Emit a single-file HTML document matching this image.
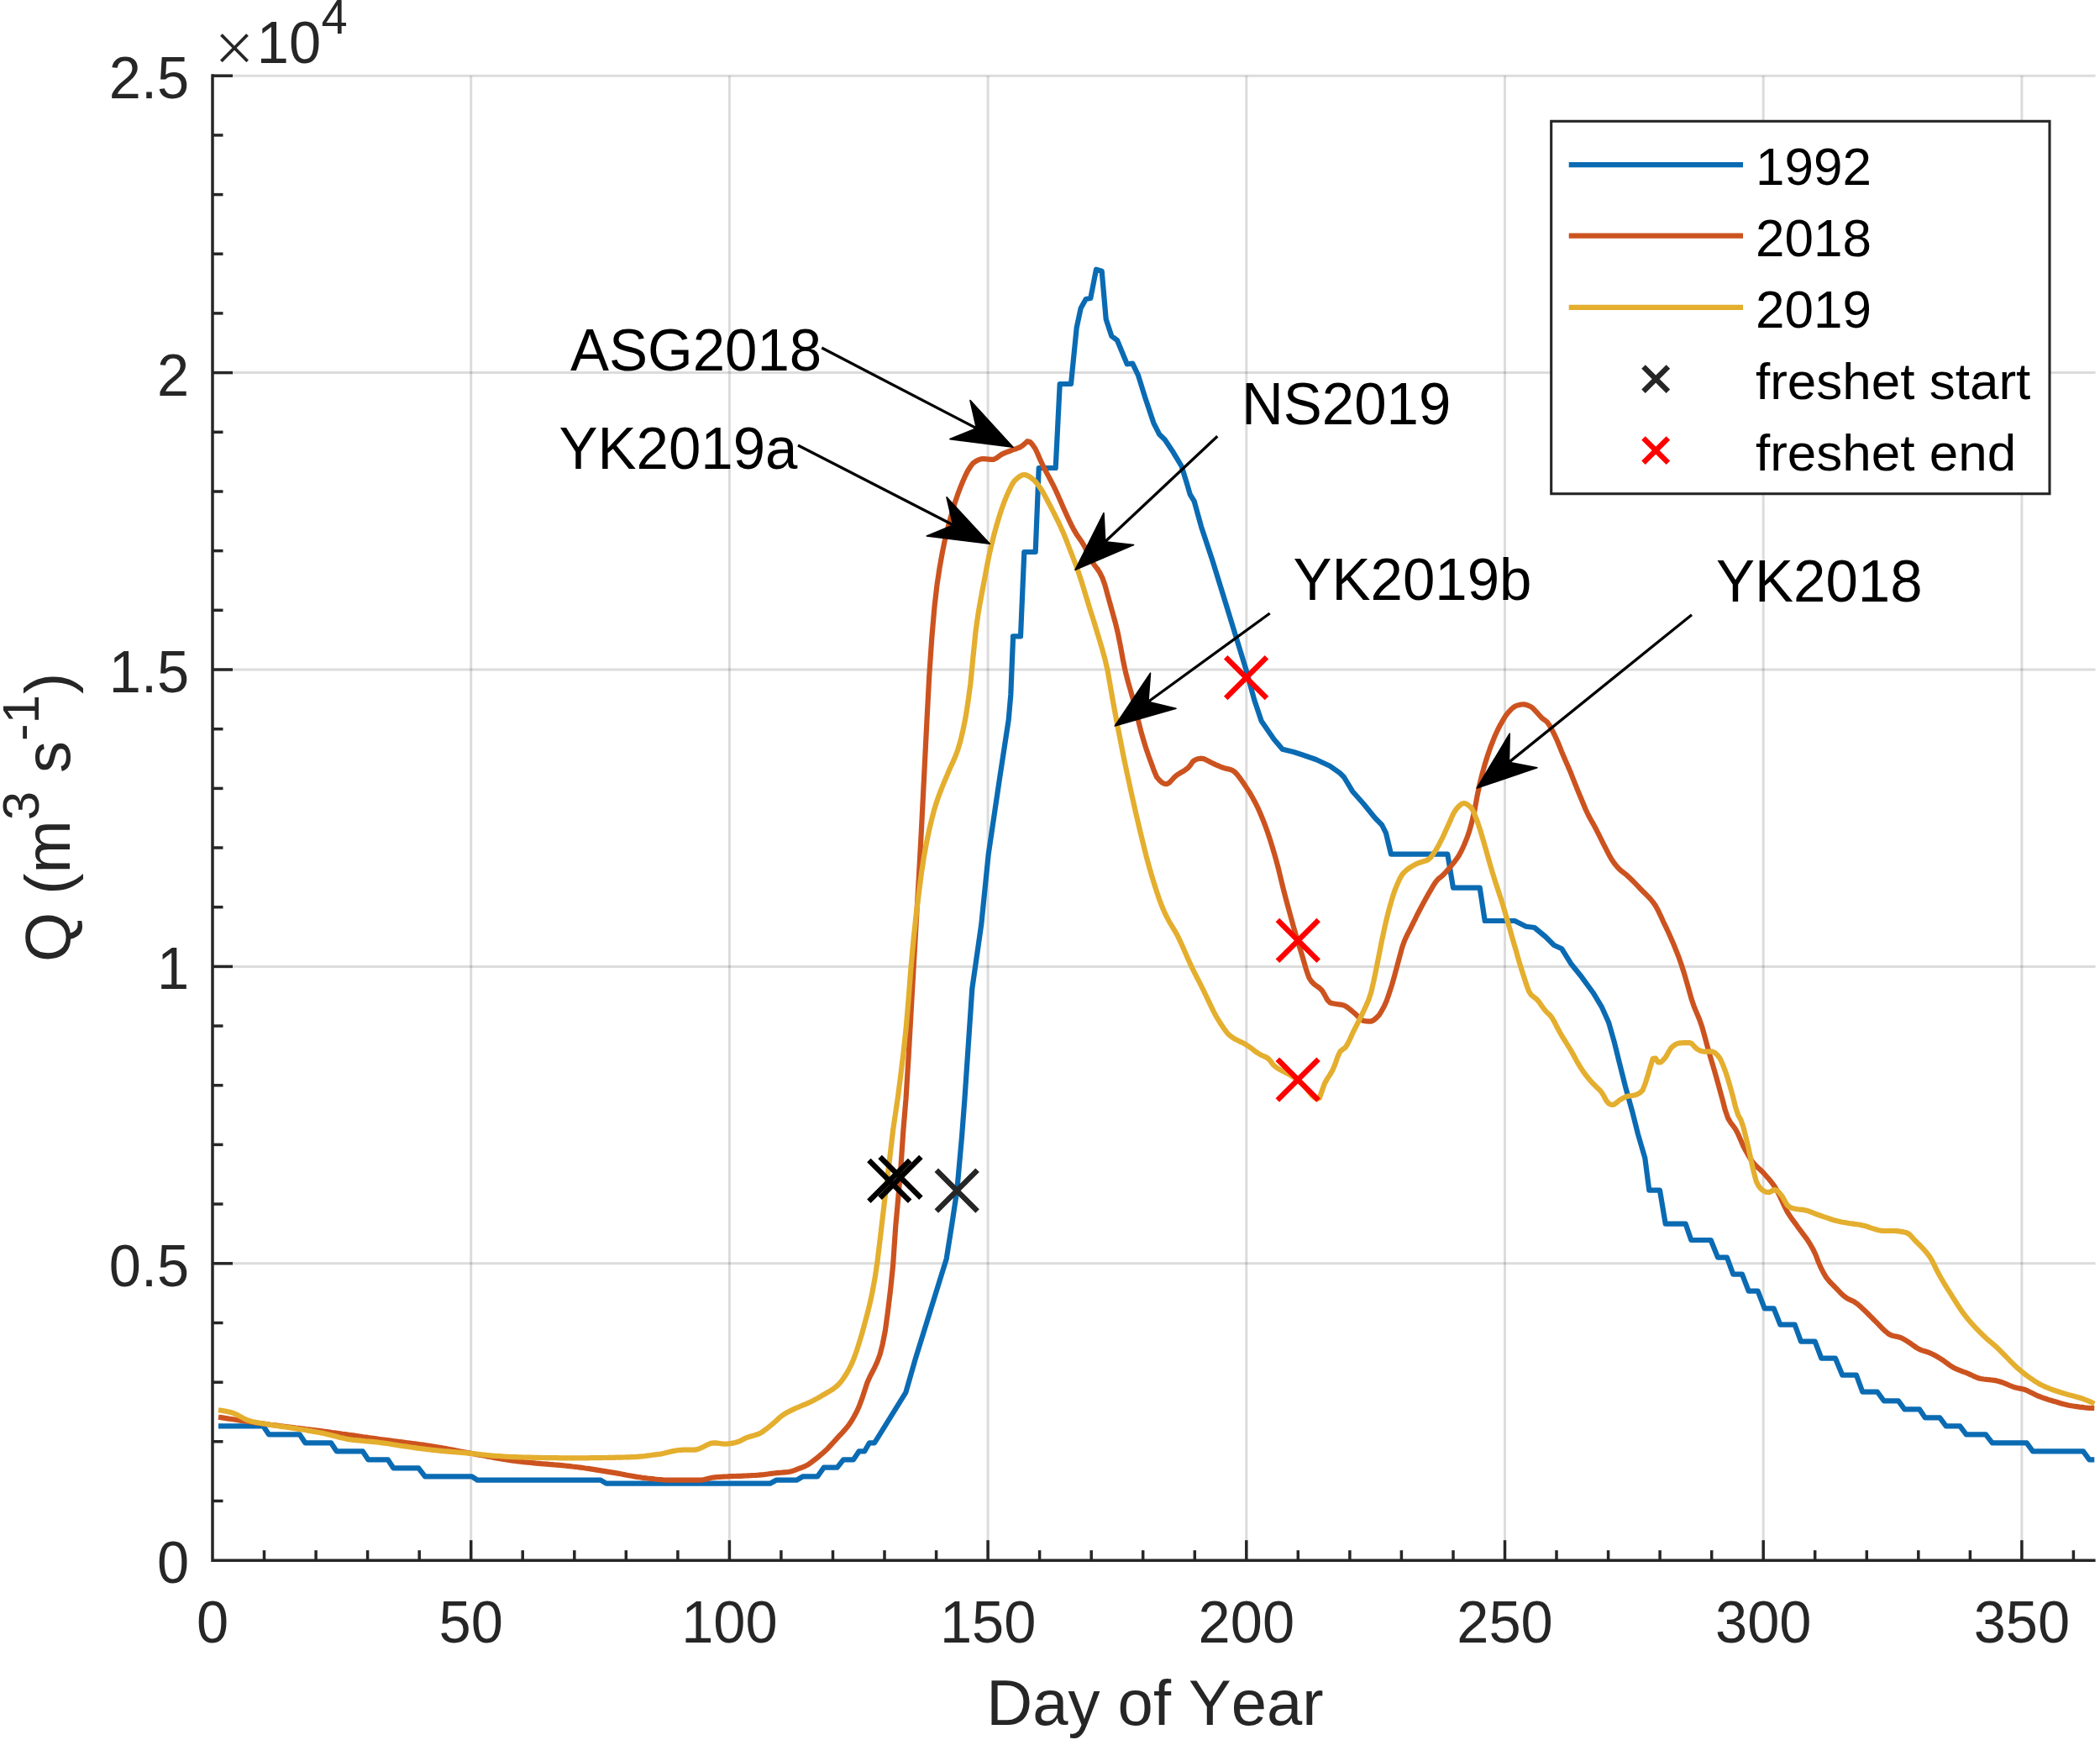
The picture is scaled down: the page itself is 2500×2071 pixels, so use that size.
<!DOCTYPE html>
<html lang="en"><head><meta charset="utf-8"><title>Discharge by Day of Year</title>
<style>html,body{margin:0;padding:0;background:#fff}svg{display:block}text{font-family:"Liberation Sans",Arial,Helvetica,sans-serif;font-kerning:none}</style></head><body>
<svg width="2500" height="2071" viewBox="0 0 2500 2071">
<rect width="2500" height="2071" fill="#fff"/>
<g stroke="#262626" stroke-opacity="0.16" stroke-width="3" fill="none">
<line x1="560.7" y1="90.3" x2="560.7" y2="1857.2"/>
<line x1="868.4" y1="90.3" x2="868.4" y2="1857.2"/>
<line x1="1176.1" y1="90.3" x2="1176.1" y2="1857.2"/>
<line x1="1483.8" y1="90.3" x2="1483.8" y2="1857.2"/>
<line x1="1791.5" y1="90.3" x2="1791.5" y2="1857.2"/>
<line x1="2099.2" y1="90.3" x2="2099.2" y2="1857.2"/>
<line x1="2406.9" y1="90.3" x2="2406.9" y2="1857.2"/>
<line x1="253.0" y1="1503.8" x2="2494.6" y2="1503.8"/>
<line x1="253.0" y1="1150.4" x2="2494.6" y2="1150.4"/>
<line x1="253.0" y1="797.0" x2="2494.6" y2="797.0"/>
<line x1="253.0" y1="443.6" x2="2494.6" y2="443.6"/>
<line x1="253.0" y1="90.2" x2="2494.6" y2="90.2"/>
</g>
<clipPath id="ax"><rect x="253.0" y="85.3" width="2243.1" height="1771.9"/></clipPath>
<g fill="none" stroke-width="6.2" stroke-linejoin="round" stroke-linecap="butt" clip-path="url(#ax)">
<path stroke="#0a6bb3" d="M260.0 1697.3 L313.3 1697.3 L320.0 1707.3 L356.7 1707.3 L363.3 1717.3 L394.0 1717.3 L400.7 1727.3 L431.7 1727.3 L438.3 1737.3 L461.7 1737.3 L468.3 1747.3 L498.3 1747.3 L506.0 1757.3 L561.7 1757.3 L568.3 1761.7 L715.0 1761.7 L721.7 1765.7 L916.7 1765.7 L924.0 1761.7 L925.0 1761.7 L948.3 1761.7 L956.0 1757.3 L973.3 1757.3 L980.7 1746.7 L996.7 1746.7 L1004.0 1737.3 L1016.0 1737.3 L1022.7 1727.3 L1029.3 1727.3 L1035.0 1717.3 L1041.0 1717.3 L1046.7 1708.3 L1078.3 1657.3 L1090.0 1616.7 L1126.7 1498.3 L1133.3 1456.7 L1139.3 1416.7 L1145.0 1353.3 L1148.3 1310.0 L1157.3 1176.7 L1168.3 1100.0 L1176.7 1016.7 L1190.0 926.7 L1200.7 856.7 L1203.3 826.7 L1206.0 760.0 L1206.0 757.3 L1215.0 757.3 L1219.3 657.0 L1232.7 657.0 L1236.7 557.0 L1256.7 557.0 L1261.7 457.0 L1275.0 457.0 L1281.7 390.0 L1286.7 366.7 L1292.7 356.0 L1298.3 355.0 L1305.0 320.7 L1311.7 322.7 L1316.7 380.0 L1323.3 400.0 L1330.0 405.0 L1341.7 433.3 L1348.3 432.7 L1355.0 446.7 L1363.3 473.3 L1373.3 503.3 L1380.0 516.7 L1386.7 523.3 L1396.7 538.3 L1406.7 555.0 L1413.3 576.7 L1416.7 588.3 L1421.7 596.7 L1430.0 626.7 L1443.3 666.7 L1456.7 710.0 L1470.0 753.3 L1483.3 796.7 L1493.3 833.3 L1501.7 858.3 L1516.7 880.0 L1526.7 891.7 L1540.0 895.0 L1550.0 898.3 L1566.7 904.0 L1583.3 911.7 L1595.0 920.0 L1600.0 925.0 L1610.0 941.7 L1623.3 956.7 L1636.7 973.3 L1645.0 981.7 L1650.0 991.7 L1656.0 1016.7 L1723.3 1016.7 L1730.0 1056.7 L1761.7 1056.7 L1767.7 1096.0 L1803.3 1096.0 L1816.7 1102.7 L1826.7 1104.0 L1840.0 1115.0 L1850.0 1125.0 L1859.3 1129.3 L1870.0 1146.7 L1883.3 1163.3 L1896.7 1181.7 L1906.7 1198.3 L1915.0 1216.7 L1921.7 1240.0 L1928.3 1266.7 L1935.0 1293.3 L1943.3 1323.3 L1950.0 1350.0 L1958.3 1378.3 L1963.3 1416.7 L1976.0 1416.7 L1982.7 1456.7 L2006.7 1456.7 L2013.3 1476.0 L2036.7 1476.0 L2045.0 1496.7 L2056.0 1496.7 L2063.3 1516.7 L2074.0 1516.7 L2081.7 1536.7 L2092.7 1536.7 L2100.7 1557.3 L2111.7 1557.3 L2119.3 1576.7 L2136.7 1576.7 L2144.0 1596.7 L2160.7 1596.7 L2168.3 1616.7 L2185.0 1616.7 L2193.3 1636.7 L2210.0 1636.7 L2217.3 1656.7 L2235.0 1656.7 L2242.7 1667.3 L2260.0 1667.3 L2267.3 1677.3 L2285.0 1677.3 L2291.7 1687.3 L2309.3 1687.3 L2316.7 1697.3 L2333.3 1697.3 L2340.7 1707.3 L2364.0 1707.3 L2371.7 1717.3 L2412.7 1717.3 L2420.0 1727.3 L2480.0 1727.3 L2487.3 1737.3 L2493.3 1737.3"/>
<path stroke="#cc531f" d="M260.0 1686.7 L263.1 1687.1 L266.2 1687.6 L269.2 1688.1 L272.3 1688.6 L275.4 1689.0 L278.5 1689.5 L281.5 1690.0 L284.6 1690.4 L287.7 1690.9 L290.8 1691.3 L293.8 1691.8 L296.9 1692.2 L300.0 1692.7 L303.1 1693.1 L306.2 1693.6 L309.2 1694.0 L312.3 1694.4 L315.4 1694.8 L318.5 1695.2 L321.5 1695.7 L324.6 1696.1 L327.7 1696.4 L330.8 1696.8 L333.8 1697.2 L336.9 1697.6 L340.0 1698.0 L343.1 1698.4 L346.2 1698.7 L349.2 1699.1 L352.3 1699.5 L355.4 1699.8 L358.5 1700.2 L361.5 1700.6 L364.6 1701.0 L367.7 1701.3 L370.8 1701.7 L373.8 1702.1 L376.9 1702.5 L380.0 1702.9 L383.1 1703.3 L386.2 1703.7 L389.2 1704.1 L392.3 1704.5 L395.4 1705.0 L398.5 1705.4 L401.5 1705.8 L404.6 1706.2 L407.7 1706.7 L410.8 1707.1 L413.8 1707.6 L416.9 1708.0 L420.0 1708.4 L423.1 1708.9 L426.2 1709.3 L429.2 1709.7 L432.3 1710.2 L435.4 1710.6 L438.5 1711.1 L441.5 1711.5 L444.6 1711.9 L447.7 1712.3 L450.8 1712.8 L453.9 1713.2 L456.9 1713.6 L460.0 1714.0 L463.1 1714.4 L466.2 1714.8 L469.2 1715.2 L472.3 1715.6 L475.4 1716.0 L478.5 1716.4 L481.5 1716.8 L484.6 1717.2 L487.7 1717.6 L490.8 1718.0 L493.9 1718.4 L496.9 1718.8 L500.0 1719.2 L503.1 1719.6 L506.2 1720.1 L509.2 1720.5 L512.3 1721.0 L515.4 1721.5 L518.5 1722.0 L521.5 1722.5 L524.6 1723.0 L527.7 1723.6 L530.8 1724.1 L533.9 1724.7 L536.9 1725.3 L540.0 1725.9 L543.1 1726.5 L546.2 1727.1 L549.2 1727.7 L552.3 1728.3 L555.4 1728.9 L558.5 1729.4 L561.5 1730.0 L564.6 1730.5 L567.7 1731.1 L570.8 1731.7 L573.9 1732.2 L576.9 1732.8 L580.0 1733.4 L583.1 1733.9 L586.2 1734.5 L589.2 1735.1 L592.3 1735.6 L595.4 1736.1 L598.5 1736.7 L601.5 1737.2 L604.6 1737.6 L607.7 1738.1 L610.8 1738.6 L613.9 1739.0 L616.9 1739.4 L620.0 1739.7 L623.1 1740.1 L626.2 1740.4 L629.2 1740.7 L632.3 1741.0 L635.4 1741.3 L638.5 1741.6 L641.5 1741.8 L644.6 1742.1 L647.7 1742.3 L650.8 1742.6 L653.9 1742.9 L656.9 1743.1 L660.0 1743.4 L663.1 1743.6 L666.2 1743.9 L669.2 1744.2 L672.3 1744.5 L675.4 1744.8 L678.5 1745.1 L681.5 1745.5 L684.6 1745.8 L687.7 1746.2 L690.8 1746.6 L693.9 1747.0 L696.9 1747.5 L700.0 1747.9 L703.1 1748.4 L706.2 1748.9 L709.2 1749.4 L712.3 1749.9 L715.4 1750.4 L718.5 1750.9 L721.5 1751.4 L724.6 1751.9 L727.7 1752.4 L730.8 1752.9 L733.9 1753.4 L736.9 1753.9 L740.0 1754.5 L743.1 1755.1 L746.2 1755.7 L749.2 1756.2 L752.3 1756.8 L755.4 1757.4 L758.5 1757.9 L761.6 1758.3 L764.6 1758.8 L767.7 1759.1 L770.8 1759.5 L773.9 1759.8 L776.9 1760.1 L780.0 1760.5 L783.1 1760.8 L786.2 1761.0 L789.2 1761.3 L792.3 1761.5 L795.4 1761.6 L798.5 1761.7 L801.6 1761.7 L804.6 1761.7 L807.7 1761.7 L810.8 1761.7 L813.9 1761.7 L816.9 1761.7 L820.0 1761.7 L823.1 1761.7 L826.2 1761.7 L829.2 1761.7 L832.3 1761.7 L835.4 1761.5 L838.5 1761.0 L841.6 1760.2 L844.6 1759.4 L847.7 1758.7 L850.8 1758.3 L853.9 1758.0 L856.9 1757.8 L860.0 1757.7 L863.1 1757.5 L866.2 1757.4 L869.2 1757.2 L872.3 1757.1 L875.4 1757.0 L878.5 1756.9 L881.6 1756.8 L884.6 1756.6 L887.7 1756.5 L890.8 1756.3 L893.9 1756.2 L896.9 1756.0 L900.0 1755.9 L903.1 1755.7 L906.2 1755.4 L909.2 1755.1 L912.3 1754.7 L915.4 1754.3 L918.5 1753.9 L921.6 1753.5 L924.6 1753.2 L927.7 1752.9 L930.8 1752.7 L933.9 1752.4 L936.9 1752.1 L940.0 1751.7 L943.1 1750.9 L946.2 1749.8 L949.2 1748.6 L952.3 1747.5 L955.4 1746.4 L958.5 1745.1 L961.6 1743.5 L964.6 1741.4 L967.7 1739.1 L970.8 1736.7 L973.9 1734.3 L976.9 1731.7 L980.0 1729.1 L983.1 1726.2 L986.2 1723.2 L989.2 1719.9 L992.3 1716.5 L995.4 1713.1 L998.5 1709.7 L1001.6 1706.5 L1004.6 1703.2 L1007.7 1699.6 L1010.8 1695.6 L1013.9 1691.0 L1016.9 1685.8 L1020.0 1680.0 L1023.1 1672.9 L1026.2 1664.7 L1029.2 1655.5 L1032.3 1646.0 L1035.4 1638.9 L1038.5 1633.0 L1041.6 1626.8 L1044.6 1620.3 L1047.7 1611.7 L1050.8 1599.4 L1053.9 1583.6 L1056.9 1561.4 L1060.0 1536.0 L1063.1 1506.1 L1066.2 1460.1 L1069.3 1425.8 L1072.3 1390.9 L1075.4 1344.8 L1078.5 1307.9 L1081.6 1257.7 L1084.6 1204.2 L1087.7 1150.3 L1090.8 1096.3 L1093.9 1043.5 L1096.9 988.1 L1100.0 926.5 L1103.1 864.5 L1106.2 804.9 L1109.3 759.2 L1112.3 724.2 L1115.4 696.9 L1118.5 676.2 L1121.6 658.9 L1124.6 643.9 L1127.7 630.7 L1130.8 619.0 L1133.9 608.2 L1136.9 598.1 L1140.0 588.9 L1143.1 580.6 L1146.2 573.0 L1149.3 566.0 L1152.3 560.0 L1155.4 555.2 L1158.5 551.2 L1161.6 549.0 L1164.6 547.4 L1167.7 546.3 L1170.8 546.0 L1173.9 546.3 L1176.9 546.6 L1180.0 546.9 L1183.1 546.8 L1186.2 545.3 L1189.3 543.0 L1192.3 540.9 L1195.4 539.4 L1198.5 538.1 L1201.6 537.0 L1204.6 535.8 L1207.7 534.7 L1210.8 533.7 L1213.9 532.5 L1216.9 530.7 L1220.0 528.1 L1223.1 525.2 L1226.2 525.9 L1229.3 529.4 L1232.3 533.7 L1235.4 540.3 L1238.5 547.7 L1241.6 554.2 L1244.6 560.1 L1247.7 565.9 L1250.8 571.7 L1253.9 577.7 L1256.9 583.9 L1260.0 590.7 L1263.1 597.8 L1266.2 604.9 L1269.3 611.7 L1272.3 618.3 L1275.4 624.7 L1278.5 630.6 L1281.6 635.9 L1284.6 640.3 L1287.7 644.7 L1290.8 649.8 L1293.9 656.0 L1296.9 662.6 L1300.0 668.4 L1303.1 672.8 L1306.2 676.8 L1309.3 681.6 L1312.3 687.6 L1315.4 696.3 L1318.5 707.7 L1321.6 718.9 L1324.6 729.6 L1327.7 740.8 L1330.8 753.5 L1333.9 769.0 L1336.9 785.4 L1340.0 800.1 L1343.1 812.1 L1346.2 822.9 L1349.3 833.9 L1352.3 846.0 L1355.4 858.9 L1358.5 871.2 L1361.6 881.9 L1364.6 891.6 L1367.7 900.5 L1370.8 908.8 L1373.9 917.5 L1377.0 924.7 L1380.0 928.4 L1383.1 931.2 L1386.2 932.9 L1389.3 933.2 L1392.3 931.3 L1395.4 928.0 L1398.5 924.7 L1401.6 922.2 L1404.6 920.3 L1407.7 918.5 L1410.8 916.6 L1413.9 914.3 L1417.0 910.9 L1420.0 906.4 L1423.1 904.4 L1426.2 903.2 L1429.3 902.7 L1432.3 903.0 L1435.4 904.2 L1438.5 905.8 L1441.6 907.5 L1444.6 908.9 L1447.7 910.3 L1450.8 911.7 L1453.9 913.0 L1457.0 914.1 L1460.0 914.9 L1463.1 915.5 L1466.2 916.5 L1469.3 918.2 L1472.3 921.2 L1475.4 925.1 L1478.5 929.5 L1481.6 934.1 L1484.6 938.6 L1487.7 943.4 L1490.8 948.7 L1493.9 954.4 L1497.0 960.6 L1500.0 967.3 L1503.1 974.7 L1506.2 982.7 L1509.3 991.2 L1512.3 1000.4 L1515.4 1010.5 L1518.5 1021.2 L1521.6 1032.6 L1524.6 1045.0 L1527.7 1057.7 L1530.8 1069.7 L1533.9 1081.3 L1537.0 1092.5 L1540.0 1103.4 L1543.1 1114.0 L1546.2 1124.4 L1549.3 1134.3 L1552.3 1144.6 L1555.4 1155.3 L1558.5 1163.9 L1561.6 1168.6 L1564.6 1171.5 L1567.7 1173.7 L1570.8 1175.9 L1573.9 1179.0 L1577.0 1184.1 L1580.0 1189.8 L1583.1 1193.2 L1586.2 1194.2 L1589.3 1194.8 L1592.3 1195.2 L1595.4 1195.6 L1598.5 1196.2 L1601.6 1197.3 L1604.6 1199.3 L1607.7 1201.8 L1610.8 1204.5 L1613.9 1207.1 L1617.0 1210.2 L1620.0 1213.2 L1623.1 1215.0 L1626.2 1215.4 L1629.3 1215.6 L1632.3 1215.6 L1635.4 1214.1 L1638.5 1211.5 L1641.6 1208.3 L1644.6 1203.6 L1647.7 1197.9 L1650.8 1190.9 L1653.9 1182.0 L1657.0 1172.4 L1660.0 1161.8 L1663.1 1150.3 L1666.2 1138.8 L1669.3 1127.2 L1672.3 1119.0 L1675.4 1112.4 L1678.5 1106.4 L1681.6 1100.1 L1684.7 1093.8 L1687.7 1087.7 L1690.8 1081.8 L1693.9 1076.0 L1697.0 1070.3 L1700.0 1064.9 L1703.1 1059.6 L1706.2 1054.2 L1709.3 1049.5 L1712.3 1046.0 L1715.4 1043.7 L1718.5 1040.9 L1721.6 1037.6 L1724.7 1034.1 L1727.7 1030.4 L1730.8 1026.6 L1733.9 1022.5 L1737.0 1017.9 L1740.0 1012.2 L1743.1 1005.5 L1746.2 997.9 L1749.3 989.0 L1752.3 978.1 L1755.4 964.7 L1758.5 947.7 L1761.6 933.0 L1764.7 920.6 L1767.7 909.7 L1770.8 899.8 L1773.9 890.7 L1777.0 882.6 L1780.0 875.2 L1783.1 868.5 L1786.2 862.5 L1789.3 857.1 L1792.3 852.2 L1795.4 848.1 L1798.5 844.8 L1801.6 842.0 L1804.7 840.1 L1807.7 839.2 L1810.8 838.5 L1813.9 838.3 L1817.0 838.9 L1820.0 840.0 L1823.1 841.5 L1826.2 844.3 L1829.3 847.6 L1832.3 851.0 L1835.4 854.4 L1838.5 856.7 L1841.6 859.2 L1844.7 863.4 L1847.7 868.9 L1850.8 875.0 L1853.9 881.8 L1857.0 889.3 L1860.0 896.8 L1863.1 903.9 L1866.2 911.0 L1869.3 918.2 L1872.3 925.8 L1875.4 933.6 L1878.5 941.3 L1881.6 948.8 L1884.7 956.3 L1887.7 963.5 L1890.8 970.0 L1893.9 975.7 L1897.0 981.1 L1900.0 986.7 L1903.1 992.8 L1906.2 999.1 L1909.3 1005.3 L1912.3 1011.2 L1915.4 1017.2 L1918.5 1022.7 L1921.6 1027.2 L1924.7 1031.1 L1927.7 1034.4 L1930.8 1037.1 L1933.9 1039.4 L1937.0 1041.9 L1940.0 1044.8 L1943.1 1047.8 L1946.2 1050.9 L1949.3 1054.1 L1952.3 1057.3 L1955.4 1060.5 L1958.5 1063.5 L1961.6 1066.6 L1964.7 1069.9 L1967.7 1073.6 L1970.8 1077.9 L1973.9 1083.6 L1977.0 1090.1 L1980.0 1096.8 L1983.1 1103.2 L1986.2 1109.8 L1989.3 1116.7 L1992.4 1123.8 L1995.4 1131.3 L1998.5 1139.2 L2001.6 1148.0 L2004.7 1157.7 L2007.7 1168.0 L2010.8 1178.8 L2013.9 1189.8 L2017.0 1198.7 L2020.0 1205.9 L2023.1 1213.2 L2026.2 1222.1 L2029.3 1233.2 L2032.4 1244.8 L2035.4 1255.5 L2038.5 1265.9 L2041.6 1276.4 L2044.7 1287.4 L2047.7 1298.5 L2050.8 1309.7 L2053.9 1321.6 L2057.0 1330.6 L2060.0 1335.8 L2063.1 1339.8 L2066.2 1344.2 L2069.3 1350.2 L2072.4 1357.3 L2075.4 1364.2 L2078.5 1370.1 L2081.6 1375.6 L2084.7 1380.6 L2087.7 1384.6 L2090.8 1387.9 L2093.9 1390.8 L2097.0 1393.6 L2100.0 1396.7 L2103.1 1400.2 L2106.2 1403.7 L2109.3 1407.6 L2112.4 1411.9 L2115.4 1416.9 L2118.5 1423.0 L2121.6 1429.8 L2124.7 1436.4 L2127.7 1442.3 L2130.8 1447.2 L2133.9 1451.7 L2137.0 1455.8 L2140.0 1460.1 L2143.1 1464.2 L2146.2 1468.3 L2149.3 1472.4 L2152.4 1476.8 L2155.4 1481.7 L2158.5 1487.1 L2161.6 1493.7 L2164.7 1501.9 L2167.7 1508.9 L2170.8 1514.9 L2173.9 1520.1 L2177.0 1524.1 L2180.0 1527.4 L2183.1 1530.5 L2186.2 1533.7 L2189.3 1536.9 L2192.4 1540.1 L2195.4 1542.8 L2198.5 1545.1 L2201.6 1546.7 L2204.7 1548.1 L2207.7 1549.6 L2210.8 1551.7 L2213.9 1554.3 L2217.0 1557.2 L2220.0 1560.0 L2223.1 1563.0 L2226.2 1566.2 L2229.3 1569.3 L2232.4 1572.4 L2235.4 1575.4 L2238.5 1578.6 L2241.6 1581.8 L2244.7 1584.7 L2247.7 1587.2 L2250.8 1589.0 L2253.9 1590.0 L2257.0 1590.6 L2260.0 1591.2 L2263.1 1592.2 L2266.2 1593.8 L2269.3 1595.7 L2272.4 1597.7 L2275.4 1599.7 L2278.5 1601.9 L2281.6 1604.1 L2284.7 1605.8 L2287.7 1607.1 L2290.8 1608.1 L2293.9 1609.0 L2297.0 1610.1 L2300.1 1611.5 L2303.1 1613.1 L2306.2 1614.8 L2309.3 1616.6 L2312.4 1618.6 L2315.4 1620.8 L2318.5 1623.1 L2321.6 1625.3 L2324.7 1627.2 L2327.7 1628.9 L2330.8 1630.2 L2333.9 1631.4 L2337.0 1632.6 L2340.1 1633.7 L2343.1 1634.9 L2346.2 1636.3 L2349.3 1637.8 L2352.4 1639.2 L2355.4 1640.4 L2358.5 1641.0 L2361.6 1641.5 L2364.7 1641.8 L2367.7 1642.2 L2370.8 1642.5 L2373.9 1642.9 L2377.0 1643.4 L2380.1 1644.2 L2383.1 1645.2 L2386.2 1646.4 L2389.3 1647.7 L2392.4 1649.0 L2395.4 1650.2 L2398.5 1651.3 L2401.6 1652.0 L2404.7 1652.6 L2407.7 1653.2 L2410.8 1654.1 L2413.9 1655.4 L2417.0 1657.0 L2420.1 1658.6 L2423.1 1660.1 L2426.2 1661.5 L2429.3 1662.7 L2432.4 1663.8 L2435.4 1664.8 L2438.5 1665.9 L2441.6 1666.8 L2444.7 1667.8 L2447.7 1668.6 L2450.8 1669.5 L2453.9 1670.4 L2457.0 1671.3 L2460.1 1672.0 L2463.1 1672.7 L2466.2 1673.3 L2469.3 1673.7 L2472.4 1674.1 L2475.4 1674.6 L2478.5 1674.9 L2481.6 1675.3 L2484.7 1675.6 L2487.7 1675.8 L2493.3 1676.0"/>
<path stroke="#e4ae2e" d="M260.0 1678.3 L263.1 1678.7 L266.2 1679.2 L269.2 1679.8 L272.3 1680.5 L275.4 1681.3 L278.5 1682.2 L281.5 1683.6 L284.6 1685.2 L287.7 1686.9 L290.8 1688.6 L293.8 1690.0 L296.9 1691.1 L300.0 1691.9 L303.1 1692.6 L306.2 1693.2 L309.2 1693.7 L312.3 1694.3 L315.4 1694.8 L318.5 1695.3 L321.5 1695.8 L324.6 1696.3 L327.7 1696.7 L330.8 1697.2 L333.8 1697.6 L336.9 1698.1 L340.0 1698.5 L343.1 1698.9 L346.2 1699.4 L349.2 1699.9 L352.3 1700.4 L355.4 1700.9 L358.5 1701.3 L361.5 1701.8 L364.6 1702.3 L367.7 1702.9 L370.8 1703.4 L373.8 1703.9 L376.9 1704.5 L380.0 1705.0 L383.1 1705.6 L386.2 1706.3 L389.2 1707.0 L392.3 1707.7 L395.4 1708.5 L398.5 1709.3 L401.5 1710.1 L404.6 1710.9 L407.7 1711.6 L410.8 1712.3 L413.8 1712.9 L416.9 1713.4 L420.0 1713.8 L423.1 1714.1 L426.2 1714.4 L429.2 1714.7 L432.3 1715.0 L435.4 1715.3 L438.5 1715.5 L441.5 1715.8 L444.6 1716.1 L447.7 1716.4 L450.8 1716.8 L453.9 1717.2 L456.9 1717.6 L460.0 1718.0 L463.1 1718.5 L466.2 1719.0 L469.2 1719.5 L472.3 1720.0 L475.4 1720.5 L478.5 1721.0 L481.5 1721.4 L484.6 1721.8 L487.7 1722.3 L490.8 1722.7 L493.9 1723.1 L496.9 1723.6 L500.0 1724.0 L503.1 1724.4 L506.2 1724.8 L509.2 1725.2 L512.3 1725.5 L515.4 1725.9 L518.5 1726.2 L521.5 1726.5 L524.6 1726.8 L527.7 1727.1 L530.8 1727.3 L533.9 1727.6 L536.9 1727.9 L540.0 1728.1 L543.1 1728.4 L546.2 1728.6 L549.2 1728.9 L552.3 1729.1 L555.4 1729.4 L558.5 1729.7 L561.5 1730.0 L564.6 1730.3 L567.7 1730.7 L570.8 1731.0 L573.9 1731.4 L576.9 1731.7 L580.0 1732.0 L583.1 1732.3 L586.2 1732.6 L589.2 1732.8 L592.3 1733.0 L595.4 1733.2 L598.5 1733.5 L601.5 1733.7 L604.6 1733.8 L607.7 1734.0 L610.8 1734.1 L613.9 1734.2 L616.9 1734.3 L620.0 1734.4 L623.1 1734.5 L626.2 1734.6 L629.2 1734.6 L632.3 1734.7 L635.4 1734.8 L638.5 1734.8 L641.5 1734.9 L644.6 1735.0 L647.7 1735.0 L650.8 1735.1 L653.9 1735.1 L656.9 1735.1 L660.0 1735.2 L663.1 1735.2 L666.2 1735.3 L669.2 1735.3 L672.3 1735.3 L675.4 1735.3 L678.5 1735.3 L681.5 1735.3 L684.6 1735.3 L687.7 1735.3 L690.8 1735.3 L693.9 1735.3 L696.9 1735.3 L700.0 1735.3 L703.1 1735.2 L706.2 1735.2 L709.2 1735.2 L712.3 1735.1 L715.4 1735.1 L718.5 1735.0 L721.5 1735.0 L724.6 1734.9 L727.7 1734.9 L730.8 1734.8 L733.9 1734.7 L736.9 1734.7 L740.0 1734.6 L743.1 1734.5 L746.2 1734.4 L749.2 1734.4 L752.3 1734.2 L755.4 1734.1 L758.5 1733.9 L761.6 1733.6 L764.6 1733.3 L767.7 1733.0 L770.8 1732.6 L773.9 1732.2 L776.9 1731.8 L780.0 1731.4 L783.1 1731.0 L786.2 1730.6 L789.2 1730.0 L792.3 1729.3 L795.4 1728.6 L798.5 1727.8 L801.6 1727.1 L804.6 1726.5 L807.7 1726.0 L810.8 1725.8 L813.9 1725.7 L816.9 1725.7 L820.0 1725.7 L823.1 1725.7 L826.2 1725.7 L829.2 1725.4 L832.3 1724.4 L835.4 1723.0 L838.5 1721.4 L841.6 1719.8 L844.6 1718.5 L847.7 1717.6 L850.8 1717.3 L853.9 1717.6 L856.9 1718.0 L860.0 1718.5 L863.1 1718.7 L866.2 1718.5 L869.2 1718.2 L872.3 1717.6 L875.4 1717.0 L878.5 1716.1 L881.6 1714.8 L884.6 1713.2 L887.7 1711.6 L890.8 1710.4 L893.9 1709.5 L896.9 1708.7 L900.0 1707.8 L903.1 1706.8 L906.2 1705.2 L909.2 1703.1 L912.3 1700.8 L915.4 1698.3 L918.5 1695.9 L921.6 1693.2 L924.6 1690.4 L927.7 1687.6 L930.8 1685.1 L933.9 1683.0 L936.9 1681.2 L940.0 1679.6 L943.1 1678.1 L946.2 1676.7 L949.2 1675.3 L952.3 1674.0 L955.4 1672.7 L958.5 1671.5 L961.6 1670.1 L964.6 1668.7 L967.7 1667.2 L970.8 1665.6 L973.9 1663.9 L976.9 1662.1 L980.0 1660.3 L983.1 1658.5 L986.2 1656.6 L989.2 1654.8 L992.3 1652.8 L995.4 1650.4 L998.5 1647.6 L1001.6 1644.0 L1004.6 1639.7 L1007.7 1635.0 L1010.8 1629.5 L1013.9 1623.2 L1016.9 1616.0 L1020.0 1607.3 L1023.1 1597.4 L1026.2 1587.1 L1029.2 1576.1 L1032.3 1564.6 L1035.4 1552.3 L1038.5 1537.9 L1041.6 1521.1 L1044.6 1500.7 L1047.7 1475.2 L1050.8 1448.7 L1053.9 1422.3 L1056.9 1397.9 L1060.0 1371.9 L1063.1 1345.1 L1066.2 1324.4 L1069.3 1303.2 L1072.3 1279.7 L1075.4 1254.0 L1078.5 1225.2 L1081.6 1189.2 L1084.6 1149.8 L1087.7 1116.2 L1090.8 1087.6 L1093.9 1062.5 L1096.9 1039.7 L1100.0 1019.4 L1103.1 1002.6 L1106.2 987.8 L1109.3 974.8 L1112.3 963.4 L1115.4 953.5 L1118.5 944.8 L1121.6 936.9 L1124.6 929.4 L1127.7 922.2 L1130.8 914.8 L1133.9 908.1 L1136.9 901.3 L1140.0 893.3 L1143.1 882.9 L1146.2 870.2 L1149.3 855.2 L1152.3 836.3 L1155.4 813.3 L1158.5 781.4 L1161.6 750.8 L1164.6 729.9 L1167.7 712.4 L1170.8 695.7 L1173.9 679.3 L1176.9 663.8 L1180.0 649.9 L1183.1 637.4 L1186.2 626.0 L1189.3 615.7 L1192.3 606.3 L1195.4 597.7 L1198.5 590.0 L1201.6 583.3 L1204.6 577.0 L1207.7 572.3 L1210.8 569.4 L1213.9 567.0 L1216.9 565.4 L1220.0 565.0 L1223.1 566.0 L1226.2 567.8 L1229.3 570.1 L1232.3 572.8 L1235.4 576.6 L1238.5 581.1 L1241.6 585.8 L1244.6 591.3 L1247.7 597.2 L1250.8 603.2 L1253.9 609.1 L1256.9 615.2 L1260.0 621.4 L1263.1 628.0 L1266.2 635.0 L1269.3 642.6 L1272.3 650.5 L1275.4 658.5 L1278.5 666.5 L1281.6 674.6 L1284.6 683.3 L1287.7 692.7 L1290.8 702.8 L1293.9 713.0 L1296.9 722.9 L1300.0 732.6 L1303.1 742.5 L1306.2 752.9 L1309.3 762.9 L1312.3 773.1 L1315.4 784.4 L1318.5 797.6 L1321.6 815.2 L1324.6 832.6 L1327.7 849.4 L1330.8 865.8 L1333.9 881.7 L1336.9 897.1 L1340.0 912.2 L1343.1 926.7 L1346.2 940.9 L1349.3 954.7 L1352.3 968.1 L1355.4 981.3 L1358.5 994.3 L1361.6 1007.0 L1364.6 1019.1 L1367.7 1030.4 L1370.8 1041.2 L1373.9 1051.5 L1377.0 1061.1 L1380.0 1070.1 L1383.1 1078.3 L1386.2 1085.6 L1389.3 1091.9 L1392.3 1097.5 L1395.4 1102.6 L1398.5 1107.8 L1401.6 1113.3 L1404.6 1119.4 L1407.7 1126.2 L1410.8 1133.3 L1413.9 1140.5 L1417.0 1147.3 L1420.0 1153.7 L1423.1 1159.8 L1426.2 1165.9 L1429.3 1171.9 L1432.3 1178.0 L1435.4 1184.3 L1438.5 1190.8 L1441.6 1197.3 L1444.6 1203.6 L1447.7 1209.5 L1450.8 1214.6 L1453.9 1219.5 L1457.0 1224.1 L1460.0 1228.2 L1463.1 1231.7 L1466.2 1234.2 L1469.3 1236.2 L1472.3 1237.8 L1475.4 1239.3 L1478.5 1240.7 L1481.6 1242.3 L1484.6 1244.2 L1487.7 1246.3 L1490.8 1248.6 L1493.9 1250.9 L1497.0 1253.1 L1500.0 1255.0 L1503.1 1256.5 L1506.2 1257.8 L1509.3 1259.5 L1512.3 1262.6 L1515.4 1267.0 L1518.5 1269.8 L1521.6 1271.9 L1524.6 1273.6 L1527.7 1275.2 L1530.8 1276.7 L1533.9 1278.3 L1537.0 1280.2 L1540.0 1282.3 L1543.1 1284.5 L1546.2 1286.9 L1549.3 1289.4 L1552.3 1292.2 L1555.4 1295.8 L1558.5 1299.7 L1561.6 1303.4 L1564.6 1306.3 L1567.7 1308.1 L1570.8 1306.9 L1573.9 1298.1 L1577.0 1289.4 L1580.0 1284.1 L1583.1 1279.4 L1586.2 1274.2 L1589.3 1267.0 L1592.3 1258.3 L1595.4 1251.4 L1598.5 1249.1 L1601.6 1246.8 L1604.6 1242.0 L1607.7 1235.6 L1610.8 1228.6 L1613.9 1222.3 L1617.0 1216.3 L1620.0 1210.3 L1623.1 1203.8 L1626.2 1197.2 L1629.3 1190.1 L1632.3 1181.0 L1635.4 1167.6 L1638.5 1152.6 L1641.6 1137.1 L1644.6 1121.7 L1647.7 1107.2 L1650.8 1093.5 L1653.9 1081.3 L1657.0 1070.5 L1660.0 1061.0 L1663.1 1053.2 L1666.2 1046.3 L1669.3 1040.9 L1672.3 1037.5 L1675.4 1034.8 L1678.5 1032.6 L1681.6 1030.7 L1684.7 1029.1 L1687.7 1027.6 L1690.8 1026.4 L1693.9 1025.5 L1697.0 1024.6 L1700.0 1023.3 L1703.1 1020.6 L1706.2 1016.5 L1709.3 1011.9 L1712.3 1006.7 L1715.4 1000.8 L1718.5 994.5 L1721.6 987.6 L1724.7 980.7 L1727.7 973.9 L1730.8 967.3 L1733.9 962.7 L1737.0 959.3 L1740.0 956.8 L1743.1 956.0 L1746.2 957.1 L1749.3 959.4 L1752.3 962.5 L1755.4 968.9 L1758.5 977.1 L1761.6 986.2 L1764.7 996.5 L1767.7 1006.9 L1770.8 1017.8 L1773.9 1028.8 L1777.0 1039.3 L1780.0 1049.1 L1783.1 1058.5 L1786.2 1067.9 L1789.3 1077.6 L1792.3 1087.9 L1795.4 1098.7 L1798.5 1109.7 L1801.6 1120.6 L1804.7 1131.2 L1807.7 1141.8 L1810.8 1152.1 L1813.9 1161.7 L1817.0 1171.4 L1820.0 1179.8 L1823.1 1184.4 L1826.2 1186.9 L1829.3 1189.3 L1832.3 1192.8 L1835.4 1197.2 L1838.5 1201.5 L1841.6 1205.0 L1844.7 1207.8 L1847.7 1211.5 L1850.8 1216.9 L1853.9 1223.1 L1857.0 1228.8 L1860.0 1234.0 L1863.1 1238.9 L1866.2 1243.8 L1869.3 1248.8 L1872.3 1254.1 L1875.4 1259.8 L1878.5 1265.4 L1881.6 1270.6 L1884.7 1275.2 L1887.7 1279.4 L1890.8 1283.2 L1893.9 1286.9 L1897.0 1290.3 L1900.0 1293.3 L1903.1 1296.2 L1906.2 1299.4 L1909.3 1304.3 L1912.3 1310.2 L1915.4 1313.6 L1918.5 1314.8 L1921.6 1314.6 L1924.7 1312.3 L1927.7 1309.7 L1930.8 1307.8 L1933.9 1306.1 L1937.0 1304.9 L1940.0 1304.4 L1943.1 1304.0 L1946.2 1303.5 L1949.3 1302.4 L1952.3 1300.6 L1955.4 1297.8 L1958.5 1290.1 L1961.6 1280.2 L1964.7 1269.6 L1967.7 1260.0 L1970.8 1259.5 L1973.9 1264.3 L1977.0 1264.4 L1980.0 1261.7 L1983.1 1258.1 L1986.2 1252.5 L1989.3 1247.4 L1992.4 1244.7 L1995.4 1242.6 L1998.5 1241.6 L2001.6 1241.4 L2004.7 1241.2 L2007.7 1241.1 L2010.8 1241.0 L2013.9 1242.0 L2017.0 1245.5 L2020.0 1248.4 L2023.1 1250.1 L2026.2 1251.3 L2029.3 1251.7 L2032.4 1251.7 L2035.4 1251.7 L2038.5 1251.7 L2041.6 1253.0 L2044.7 1256.0 L2047.7 1259.9 L2050.8 1266.7 L2053.9 1274.8 L2057.0 1284.1 L2060.0 1294.4 L2063.1 1305.5 L2066.2 1318.0 L2069.3 1327.2 L2072.4 1332.8 L2075.4 1341.5 L2078.5 1353.8 L2081.6 1366.9 L2084.7 1381.3 L2087.7 1394.5 L2090.8 1406.3 L2093.9 1412.1 L2097.0 1415.7 L2100.0 1417.7 L2103.1 1419.0 L2106.2 1419.1 L2109.3 1417.6 L2112.4 1416.1 L2115.4 1416.8 L2118.5 1420.0 L2121.6 1423.8 L2124.7 1429.3 L2127.7 1434.5 L2130.8 1437.0 L2133.9 1438.1 L2137.0 1438.8 L2140.0 1439.3 L2143.1 1439.7 L2146.2 1439.9 L2149.3 1440.5 L2152.4 1441.3 L2155.4 1442.4 L2158.5 1443.6 L2161.6 1444.8 L2164.7 1446.0 L2167.7 1447.0 L2170.8 1448.1 L2173.9 1449.1 L2177.0 1450.2 L2180.0 1451.2 L2183.1 1452.2 L2186.2 1453.1 L2189.3 1453.8 L2192.4 1454.5 L2195.4 1455.0 L2198.5 1455.5 L2201.6 1456.0 L2204.7 1456.4 L2207.7 1456.9 L2210.8 1457.3 L2213.9 1457.8 L2217.0 1458.4 L2220.0 1459.1 L2223.1 1460.0 L2226.2 1461.1 L2229.3 1462.1 L2232.4 1463.1 L2235.4 1463.9 L2238.5 1464.6 L2241.6 1464.9 L2244.7 1465.0 L2247.7 1465.0 L2250.8 1465.0 L2253.9 1465.0 L2257.0 1465.1 L2260.0 1465.4 L2263.1 1465.9 L2266.2 1466.4 L2269.3 1467.1 L2272.4 1468.6 L2275.4 1471.5 L2278.5 1475.1 L2281.6 1478.2 L2284.7 1481.3 L2287.7 1484.4 L2290.8 1487.7 L2293.9 1491.3 L2297.0 1495.4 L2300.1 1500.5 L2303.1 1506.5 L2306.2 1512.8 L2309.3 1518.7 L2312.4 1524.0 L2315.4 1529.1 L2318.5 1534.1 L2321.6 1538.9 L2324.7 1543.8 L2327.7 1548.6 L2330.8 1553.5 L2333.9 1558.2 L2337.0 1562.6 L2340.1 1566.7 L2343.1 1570.5 L2346.2 1574.1 L2349.3 1577.5 L2352.4 1580.8 L2355.4 1583.9 L2358.5 1587.0 L2361.6 1590.0 L2364.7 1592.9 L2367.7 1595.6 L2370.8 1598.2 L2373.9 1600.8 L2377.0 1603.6 L2380.1 1606.6 L2383.1 1609.7 L2386.2 1612.8 L2389.3 1615.9 L2392.4 1619.1 L2395.4 1622.2 L2398.5 1625.3 L2401.6 1628.1 L2404.7 1630.7 L2407.7 1633.3 L2410.8 1635.7 L2413.9 1638.0 L2417.0 1640.2 L2420.1 1642.3 L2423.1 1644.3 L2426.2 1646.2 L2429.3 1648.0 L2432.4 1649.5 L2435.4 1650.9 L2438.5 1652.2 L2441.6 1653.4 L2444.7 1654.5 L2447.7 1655.5 L2450.8 1656.5 L2453.9 1657.5 L2457.0 1658.4 L2460.1 1659.4 L2463.1 1660.2 L2466.2 1661.0 L2469.3 1661.8 L2472.4 1662.7 L2475.4 1663.5 L2478.5 1664.5 L2481.6 1665.6 L2484.7 1666.8 L2487.7 1668.1 L2493.3 1670.7"/>
</g>
<g stroke="#262626" stroke-width="3.5" fill="none" stroke-linecap="butt">
<path d="M253.0 88.3 L253.0 1857.2 L2494.6 1857.2"/>
<line x1="314.5" y1="1857.2" x2="314.5" y2="1845.2"/>
<line x1="376.1" y1="1857.2" x2="376.1" y2="1845.2"/>
<line x1="437.6" y1="1857.2" x2="437.6" y2="1845.2"/>
<line x1="499.2" y1="1857.2" x2="499.2" y2="1845.2"/>
<line x1="560.7" y1="1857.2" x2="560.7" y2="1833.2"/>
<line x1="622.2" y1="1857.2" x2="622.2" y2="1845.2"/>
<line x1="683.8" y1="1857.2" x2="683.8" y2="1845.2"/>
<line x1="745.3" y1="1857.2" x2="745.3" y2="1845.2"/>
<line x1="806.9" y1="1857.2" x2="806.9" y2="1845.2"/>
<line x1="868.4" y1="1857.2" x2="868.4" y2="1833.2"/>
<line x1="929.9" y1="1857.2" x2="929.9" y2="1845.2"/>
<line x1="991.5" y1="1857.2" x2="991.5" y2="1845.2"/>
<line x1="1053.0" y1="1857.2" x2="1053.0" y2="1845.2"/>
<line x1="1114.6" y1="1857.2" x2="1114.6" y2="1845.2"/>
<line x1="1176.1" y1="1857.2" x2="1176.1" y2="1833.2"/>
<line x1="1237.6" y1="1857.2" x2="1237.6" y2="1845.2"/>
<line x1="1299.2" y1="1857.2" x2="1299.2" y2="1845.2"/>
<line x1="1360.7" y1="1857.2" x2="1360.7" y2="1845.2"/>
<line x1="1422.3" y1="1857.2" x2="1422.3" y2="1845.2"/>
<line x1="1483.8" y1="1857.2" x2="1483.8" y2="1833.2"/>
<line x1="1545.3" y1="1857.2" x2="1545.3" y2="1845.2"/>
<line x1="1606.9" y1="1857.2" x2="1606.9" y2="1845.2"/>
<line x1="1668.4" y1="1857.2" x2="1668.4" y2="1845.2"/>
<line x1="1730.0" y1="1857.2" x2="1730.0" y2="1845.2"/>
<line x1="1791.5" y1="1857.2" x2="1791.5" y2="1833.2"/>
<line x1="1853.0" y1="1857.2" x2="1853.0" y2="1845.2"/>
<line x1="1914.6" y1="1857.2" x2="1914.6" y2="1845.2"/>
<line x1="1976.1" y1="1857.2" x2="1976.1" y2="1845.2"/>
<line x1="2037.7" y1="1857.2" x2="2037.7" y2="1845.2"/>
<line x1="2099.2" y1="1857.2" x2="2099.2" y2="1833.2"/>
<line x1="2160.7" y1="1857.2" x2="2160.7" y2="1845.2"/>
<line x1="2222.3" y1="1857.2" x2="2222.3" y2="1845.2"/>
<line x1="2283.8" y1="1857.2" x2="2283.8" y2="1845.2"/>
<line x1="2345.4" y1="1857.2" x2="2345.4" y2="1845.2"/>
<line x1="2406.9" y1="1857.2" x2="2406.9" y2="1833.2"/>
<line x1="2468.4" y1="1857.2" x2="2468.4" y2="1845.2"/>
<line x1="253.0" y1="1786.5" x2="265.5" y2="1786.5"/>
<line x1="253.0" y1="1715.8" x2="265.5" y2="1715.8"/>
<line x1="253.0" y1="1645.2" x2="265.5" y2="1645.2"/>
<line x1="253.0" y1="1574.5" x2="265.5" y2="1574.5"/>
<line x1="253.0" y1="1503.8" x2="277.0" y2="1503.8"/>
<line x1="253.0" y1="1433.1" x2="265.5" y2="1433.1"/>
<line x1="253.0" y1="1362.4" x2="265.5" y2="1362.4"/>
<line x1="253.0" y1="1291.8" x2="265.5" y2="1291.8"/>
<line x1="253.0" y1="1221.1" x2="265.5" y2="1221.1"/>
<line x1="253.0" y1="1150.4" x2="277.0" y2="1150.4"/>
<line x1="253.0" y1="1079.7" x2="265.5" y2="1079.7"/>
<line x1="253.0" y1="1009.0" x2="265.5" y2="1009.0"/>
<line x1="253.0" y1="938.4" x2="265.5" y2="938.4"/>
<line x1="253.0" y1="867.7" x2="265.5" y2="867.7"/>
<line x1="253.0" y1="797.0" x2="277.0" y2="797.0"/>
<line x1="253.0" y1="726.3" x2="265.5" y2="726.3"/>
<line x1="253.0" y1="655.6" x2="265.5" y2="655.6"/>
<line x1="253.0" y1="585.0" x2="265.5" y2="585.0"/>
<line x1="253.0" y1="514.3" x2="265.5" y2="514.3"/>
<line x1="253.0" y1="443.6" x2="277.0" y2="443.6"/>
<line x1="253.0" y1="372.9" x2="265.5" y2="372.9"/>
<line x1="253.0" y1="302.2" x2="265.5" y2="302.2"/>
<line x1="253.0" y1="231.6" x2="265.5" y2="231.6"/>
<line x1="253.0" y1="160.9" x2="265.5" y2="160.9"/>
<line x1="253.0" y1="90.2" x2="277.0" y2="90.2"/>
</g>
<g fill="#262626" font-size="68.6">
<text transform="translate(253.0 1955.4) scale(1 1.030)" text-anchor="middle">0</text>
<text transform="translate(560.7 1955.4) scale(1 1.030)" text-anchor="middle">50</text>
<text transform="translate(868.4 1955.4) scale(1 1.030)" text-anchor="middle">100</text>
<text transform="translate(1176.1 1955.4) scale(1 1.030)" text-anchor="middle">150</text>
<text transform="translate(1483.8 1955.4) scale(1 1.030)" text-anchor="middle">200</text>
<text transform="translate(1791.5 1955.4) scale(1 1.030)" text-anchor="middle">250</text>
<text transform="translate(2099.2 1955.4) scale(1 1.030)" text-anchor="middle">300</text>
<text transform="translate(2406.9 1955.4) scale(1 1.030)" text-anchor="middle">350</text>
<text transform="translate(225.2 1884.2) scale(1 1.030)" text-anchor="end">0</text>
<text transform="translate(225.2 1530.8) scale(1 1.030)" text-anchor="end">0.5</text>
<text transform="translate(225.2 1177.4) scale(1 1.030)" text-anchor="end">1</text>
<text transform="translate(225.2 824.0) scale(1 1.030)" text-anchor="end">1.5</text>
<text transform="translate(225.2 470.6) scale(1 1.030)" text-anchor="end">2</text>
<text transform="translate(225.2 117.2) scale(1 1.030)" text-anchor="end">2.5</text>
<text x="254.7" y="85.0" font-size="83" stroke="#fff" stroke-width="2.1">×</text>
<text transform="translate(305.8 74.9) scale(1 1.030)">10</text>
<text transform="translate(382.5 40.2) scale(1 1.030)" font-size="56">4</text>
</g>
<text x="1375" y="2053.3" font-size="76" fill="#262626" text-anchor="middle">Day of Year</text>
<text transform="translate(83.2 1145) rotate(-90)" font-size="76" fill="#262626">Q (m<tspan font-size="62" dy="-37.5">3</tspan><tspan dy="37.5" dx="0.5"> s</tspan><tspan font-size="62" dy="-37.5">-1</tspan><tspan dy="37.5" dx="1">)</tspan></text>
<path d="M1034.4 1380.9 L1083.2 1429.7 M1034.4 1429.7 L1083.2 1380.9" stroke="#000" stroke-width="6.4" fill="none"/>
<path d="M1047.6 1377.0 L1096.4 1425.8 M1047.6 1425.8 L1096.4 1377.0" stroke="#000" stroke-width="6.4" fill="none"/>
<path d="M1114.8 1392.8 L1163.6 1441.6 M1114.8 1441.6 L1163.6 1392.8" stroke="#262626" stroke-width="6.4" fill="none"/>
<path d="M1459.2 782.2 L1508.0 831.0 M1459.2 831.0 L1508.0 782.2" stroke="#ff0000" stroke-width="6.4" fill="none"/>
<path d="M1520.9 1095.0 L1569.7 1143.8 M1520.9 1143.8 L1569.7 1095.0" stroke="#ff0000" stroke-width="6.4" fill="none"/>
<path d="M1520.8 1260.7 L1569.6 1309.5 M1520.8 1309.5 L1569.6 1260.7" stroke="#ff0000" stroke-width="6.4" fill="none"/>
<line x1="978.3" y1="414.0" x2="1165.2" y2="511.1" stroke="#000" stroke-width="3.3"/><path d="M1206.0 532.3 L1131.0 522.6 L1162.5 509.7 L1155.0 476.5 Z" fill="#000" stroke="#000" stroke-width="1.6" stroke-linejoin="round"/>
<line x1="950.0" y1="530.0" x2="1137.4" y2="626.3" stroke="#000" stroke-width="3.3"/><path d="M1178.3 647.3 L1103.3 638.0 L1134.7 624.9 L1127.0 591.7 Z" fill="#000" stroke="#000" stroke-width="1.6" stroke-linejoin="round"/>
<line x1="1449.3" y1="519.3" x2="1313.5" y2="646.8" stroke="#000" stroke-width="3.3"/><path d="M1280.0 678.3 L1314.0 610.7 L1315.7 644.8 L1349.6 648.6 Z" fill="#000" stroke="#000" stroke-width="1.6" stroke-linejoin="round"/>
<line x1="1511.7" y1="730.0" x2="1364.5" y2="837.0" stroke="#000" stroke-width="3.3"/><path d="M1327.3 864.0 L1369.5 801.2 L1366.9 835.2 L1400.0 843.3 Z" fill="#000" stroke="#000" stroke-width="1.6" stroke-linejoin="round"/>
<line x1="2014.0" y1="731.7" x2="1794.1" y2="909.1" stroke="#000" stroke-width="3.3"/><path d="M1758.3 938.0 L1797.2 873.2 L1796.4 907.2 L1829.9 913.7 Z" fill="#000" stroke="#000" stroke-width="1.6" stroke-linejoin="round"/>
<g fill="#000" font-size="69">
<text transform="translate(679.0 441.0) scale(1 1.030)">ASG2018</text>
<text transform="translate(665.5 557.5) scale(1 1.030)">YK2019a</text>
<text transform="translate(1478.0 505.0) scale(1 1.030)">NS2019</text>
<text transform="translate(1539.5 714.3) scale(1 1.030)">YK2019b</text>
<text transform="translate(2043.0 716.0) scale(1 1.030)">YK2018</text>
</g>
<rect x="1846.7" y="144.3" width="593.3" height="443.4" fill="#fff" stroke="#262626" stroke-width="3.1"/>
<line x1="1867.7" y1="196.1" x2="2075" y2="196.1" stroke="#0a6bb3" stroke-width="6.3"/>
<line x1="1867.7" y1="280.6" x2="2075" y2="280.6" stroke="#cc531f" stroke-width="6.3"/>
<line x1="1867.7" y1="365.9" x2="2075" y2="365.9" stroke="#e4ae2e" stroke-width="6.3"/>
<path d="M1956.5 436.4 L1985.9 465.8 M1956.5 465.8 L1985.9 436.4" stroke="#262626" stroke-width="6.4" fill="none"/>
<path d="M1956.5 521.4 L1985.9 550.8 M1956.5 550.8 L1985.9 521.4" stroke="#ff0000" stroke-width="6.4" fill="none"/>
<g fill="#000" font-size="62">
<text transform="translate(2090.0 219.6) scale(1 1.030)">1992</text>
<text transform="translate(2090.0 304.6) scale(1 1.030)">2018</text>
<text transform="translate(2090.0 389.9) scale(1 1.030)">2019</text>
<text transform="translate(2090.0 475.3) scale(1 1.000)">freshet start</text>
<text transform="translate(2090.0 560.3) scale(1 1.000)">freshet end</text>
</g>
</svg></body></html>
